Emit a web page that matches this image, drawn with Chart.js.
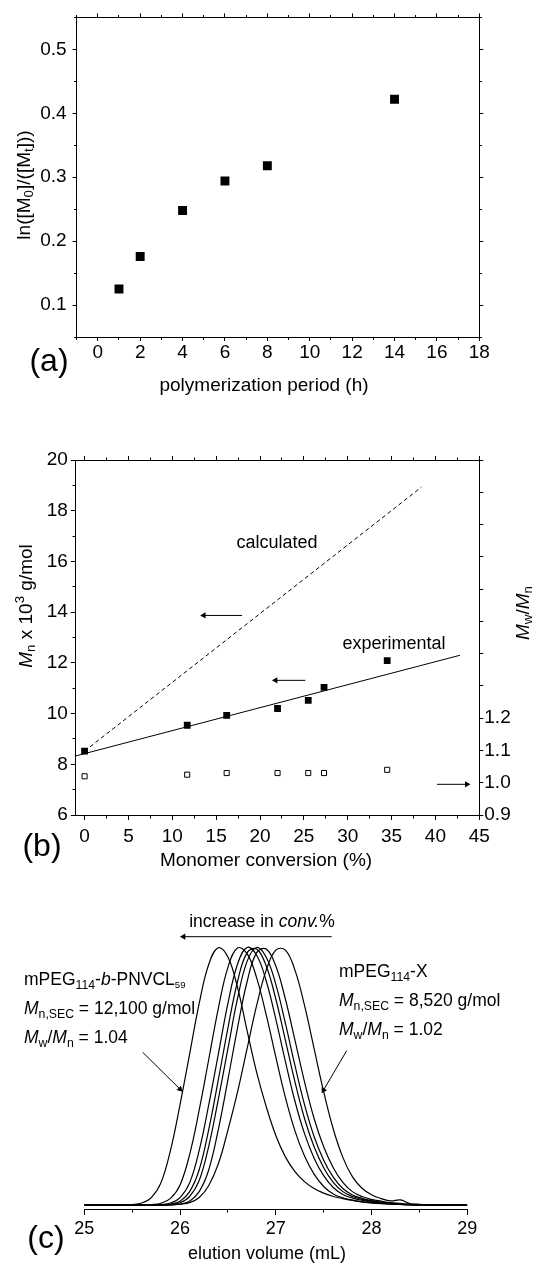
<!DOCTYPE html>
<html><head><meta charset="utf-8">
<script src="https://cdn.jsdelivr.net/npm/chart.js"></script>
<style>
html,body{margin:0;padding:0;background:#fff;}
#wrap{position:relative;width:548px;height:1269px;overflow:hidden;font-family:"Liberation Sans",Arial,sans-serif;color:#000;}
canvas{position:absolute;left:0;}
.t{position:absolute;white-space:nowrap;line-height:1;transform:translate(-50%,-50%);}
.tl{position:absolute;white-space:nowrap;line-height:1;transform:translateY(-50%);}
.rot{transform:translate(-50%,-50%) rotate(-90deg);}
sub,sup{font-size:0.7em;line-height:0;}
sub{vertical-align:-0.3em;}
sup{vertical-align:0.6em;}
sub.s{font-size:0.55em;}
.ax{font-size:19px;}
.bn{font-size:18px;}
.an{font-size:17.5px;}
.pl{font-size:32px;}
</style></head>
<body><div id="wrap">
<canvas id="ca" width="548" height="400" style="top:0px"></canvas>
<canvas id="cb" width="548" height="480" style="top:400px"></canvas>
<canvas id="cc" width="548" height="389" style="top:880px"></canvas>

<div class="t rot ax" style="left:22.5px;top:185px">ln([M<sub>0</sub>]/([M<sub>t</sub>]))</div>
<div class="t ax" style="left:264px;top:384px">polymerization period (h)</div>
<div class="t pl" style="left:49px;top:360px">(a)</div>

<div class="t rot ax" style="left:25px;top:606px"><i>M</i><sub>n</sub> x 10<sup>3</sup> g/mol</div>
<div class="t rot ax" style="left:522px;top:613px"><i>M</i><sub>w</sub>/<i>M</i><sub>n</sub></div>
<div class="t bn" style="left:277px;top:542px">calculated</div>
<div class="t bn" style="left:394px;top:643px">experimental</div>
<div class="t ax" style="left:266px;top:859px">Monomer conversion (%)</div>
<div class="t pl" style="left:42px;top:845px">(b)</div>

<div class="t an" style="left:262px;top:922px">increase in <i>conv.</i>%</div>
<div class="tl an" style="left:24px;top:980px">mPEG<sub>114</sub>-<i>b</i>-PNVCL<sub class="s">59</sub></div>
<div class="tl an" style="left:24px;top:1009px"><i>M</i><sub>n,SEC</sub> = 12,100 g/mol</div>
<div class="tl an" style="left:24px;top:1038px"><i>M</i><sub>w</sub>/<i>M</i><sub>n</sub> = 1.04</div>
<div class="tl an" style="left:339px;top:972px">mPEG<sub>114</sub>-X</div>
<div class="tl an" style="left:339px;top:1001px"><i>M</i><sub>n,SEC</sub> = 8,520 g/mol</div>
<div class="tl an" style="left:339px;top:1030px"><i>M</i><sub>w</sub>/<i>M</i><sub>n</sub> = 1.02</div>
<div class="t bn" style="left:267px;top:1253px">elution volume (mL)</div>
<div class="t pl" style="left:46px;top:1237px">(c)</div>
</div>
<script>
// ---------- Panel (a) data ----------
const timeH   = [1, 2, 4, 6, 8, 14];
const lnM0Mt  = [0.125, 0.176, 0.248, 0.294, 0.318, 0.422];
const aXTicks = [0, 2, 4, 6, 8, 10, 12, 14, 16, 18];
const aYTicks = [0.1, 0.2, 0.3, 0.4, 0.5];

// ---------- Panel (b) data ----------
const conversion = [0, 11.7, 16.2, 22.0, 25.5, 27.3, 34.5];
const mnExp      = [8.52, 9.54, 9.93, 10.2, 10.52, 11.03, 12.09];
const pdiExp     = [1.02, 1.025, 1.03, 1.03, 1.03, 1.03, 1.04];
const fitLineX   = [-1, 42.8];
const fitLineY   = [8.33, 12.3];
const calcLineX  = [0, 38.4];
const calcLineY  = [8.52, 18.93];
const bXTicks    = [0, 5, 10, 15, 20, 25, 30, 35, 40, 45];
const bYTicks    = [6, 8, 10, 12, 14, 16, 18, 20];
const bY2Ticks   = [0.9, 1.0, 1.1, 1.2, 1.3, 1.4, 1.5, 1.6, 1.7, 1.8, 1.9, 2.0];
const bY2Labels  = [0.9, 1.0, 1.1, 1.2];

// ---------- Panel (c) data ----------
const elutionVol = [25.0,25.1,25.2,25.3,25.4,25.5,25.6,25.7,25.8,25.9,26.0,26.1,26.2,26.3,26.4,26.5,26.6,26.7,26.8,26.9,27.0,27.1,27.2,27.3,27.4,27.5,27.6,27.7,27.8,27.9,28.0,28.1,28.2,28.3,28.4,28.5,28.6,28.7,28.8,28.9,29.0];
const secConv34 = [0,0,0,0,0,0.002,0.008,0.029,0.086,0.212,0.39,0.586,0.783,0.935,0.999,0.963,0.845,0.677,0.515,0.382,0.27,0.187,0.13,0.091,0.064,0.046,0.033,0.025,0.018,0.012,0.008,0.006,0.004,0.002,0,0,0,0,0,0,0];
const secConv27 = [0,0,0,0,0,0,0,0.002,0.007,0.026,0.078,0.196,0.369,0.566,0.764,0.923,0.998,0.976,0.882,0.738,0.575,0.418,0.288,0.19,0.12,0.072,0.043,0.028,0.019,0.012,0.008,0.005,0.003,0.002,0.001,0,0,0,0,0,0];
const secConv25 = [0,0,0,0,0,0,0,0,0.002,0.008,0.029,0.086,0.212,0.39,0.586,0.783,0.935,1.0,0.97,0.87,0.722,0.558,0.403,0.277,0.182,0.114,0.068,0.041,0.027,0.018,0.012,0.007,0.004,0.002,0.001,0,0,0,0,0,0];
const secConv22 = [0,0,0,0,0,0,0,0,0,0.004,0.015,0.052,0.137,0.294,0.487,0.687,0.867,0.98,0.994,0.928,0.80,0.64,0.478,0.336,0.226,0.145,0.088,0.052,0.033,0.022,0.015,0.009,0.006,0.003,0.002,0.001,0,0,0,0,0];
const secConv16 = [0,0,0,0,0,0,0,0,0,0.002,0.009,0.033,0.095,0.229,0.411,0.607,0.801,0.946,1.0,0.962,0.857,0.706,0.542,0.39,0.266,0.174,0.108,0.064,0.039,0.026,0.017,0.011,0.007,0.004,0.002,0.001,0,0,0,0,0];
const secConv12 = [0,0,0,0,0,0,0,0,0,0,0.004,0.015,0.052,0.137,0.294,0.487,0.687,0.867,0.98,0.994,0.928,0.80,0.64,0.478,0.336,0.226,0.145,0.088,0.052,0.033,0.022,0.015,0.009,0.006,0.003,0.002,0.001,0,0,0,0];
const secConv0  = [0,0,0,0,0,0,0,0,0,0,0.003,0.009,0.029,0.076,0.16,0.291,0.438,0.607,0.775,0.912,0.99,0.99,0.912,0.775,0.607,0.44,0.295,0.185,0.11,0.065,0.04,0.025,0.016,0.02,0.006,0.003,0.001,0,0,0,0];
const cXTicks = [25, 26, 27, 28, 29];

// ---------- annotation arrows (data coordinates) ----------
const bArrows = [
  {from: [17.95, 13.87], to: [13.59, 13.87], rot: -90},
  {from: [25.17, 11.31], to: [21.77, 11.31], rot: -90},
  {from: [40.18, 7.21], to: [43.58, 7.21], rot: 90}
];
const cArrows = [
  {from: [27.584, 1.042], to: [26.036, 1.042], rot: -90},
  {from: [25.61, 0.593], to: [26.0, 0.45], rot: 135},
  {from: [27.74, 0.599], to: [27.498, 0.446], rot: -150}
];

// ---------- helpers ----------
const FONT = '"Liberation Sans", Arial, sans-serif';
Chart.defaults.font.family = FONT;
Chart.defaults.color = '#000';

function axis(o) {
  return {
    type: 'linear', position: o.pos, min: o.min, max: o.max,
    grid: {drawOnChartArea: false, drawTicks: true, tickLength: o.tl, tickColor: '#000', tickWidth: 1},
    border: {display: true, color: '#000', width: 1},
    ticks: {
      display: !!o.labels, color: '#000', font: {size: o.fs || 19, family: FONT},
      padding: o.pad || 0, autoSkip: false, maxRotation: 0, minRotation: 0,
      callback: (v) => (o.labels && o.labels.includes(v)) ? o.fmt(v) : ''
    },
    afterBuildTicks: (s) => { s.ticks = o.ticks.map(v => ({value: v})); },
    afterFit: (s) => { if (o.size != null) { if (s.isHorizontal()) s.height = o.size; else s.width = o.size; } }
  };
}
function minorTicks(steps, len) {
  return {
    id: 'minorTicks',
    afterDraw(chart) {
      const ctx = chart.ctx;
      const al = p => Math.round(p - 0.5) + 0.5;
      ctx.save();
      ctx.strokeStyle = '#000'; ctx.lineWidth = 1;
      for (const id in steps) {
        const s = chart.scales[id]; if (!s) continue;
        const st = steps[id];
        const n0 = Math.ceil(s.min / st - 1e-9), n1 = Math.floor(s.max / st + 1e-9);
        for (let n = n0; n <= n1; n++) {
          const p = al(s.getPixelForValue(n * st));
          ctx.beginPath();
          if (s.isHorizontal()) {
            const y = s.position === 'top' ? al(s.bottom) : al(s.top);
            const d = s.position === 'top' ? -len : len;
            ctx.moveTo(p, y); ctx.lineTo(p, y + d);
          } else {
            const x = s.position === 'left' ? al(s.right) : al(s.left);
            const d = s.position === 'left' ? -len : len;
            ctx.moveTo(x, p); ctx.lineTo(x + d, p);
          }
          ctx.stroke();
        }
      }
      ctx.restore();
    }
  };
}
function arrowDs(a, yAxisID) {
  return {
    data: [{x: a.from[0], y: a.from[1]}, {x: a.to[0], y: a.to[1]}],
    borderColor: '#000', borderWidth: 1, backgroundColor: '#000',
    pointRadius: [0, 3.6], pointStyle: 'triangle', pointRotation: [0, a.rot],
    pointBackgroundColor: '#000', pointBorderWidth: 0, tension: 0, fill: false, yAxisID
  };
}
const baseOpts = {
  responsive: false, animation: false, devicePixelRatio: 1,
  plugins: {legend: {display: false}, tooltip: {enabled: false}},
  events: []
};
const xy = (xs, ys) => xs.map((x, i) => ({x, y: ys[i]}));

// ---------- Chart (a) ----------
new Chart(document.getElementById('ca'), {
  type: 'line',
  data: {datasets: [{
    data: xy(timeH, lnM0Mt), showLine: false, pointStyle: 'rect', pointRadius: 6.3,
    pointBackgroundColor: '#000', pointBorderWidth: 0, borderColor: '#000'
  }]},
  options: Object.assign({}, baseOpts, {
    layout: {padding: 0},
    scales: {
      x:  axis({pos: 'bottom', min: -1, max: 18, ticks: aXTicks, labels: aXTicks, fmt: String, tl: 4, pad: 0, size: 63}),
      x2: axis({pos: 'top', min: -1, max: 18, ticks: aXTicks, tl: 4, size: 13}),
      y:  axis({pos: 'left', min: 0.05, max: 0.55, ticks: aYTicks, labels: aYTicks, fmt: v => v.toFixed(1), tl: 4, pad: 6, size: 76.6}),
      y2: axis({pos: 'right', min: 0.05, max: 0.55, ticks: aYTicks, tl: 4, size: 68.7})
    }
  }),
  plugins: [minorTicks({x: 1, x2: 1, y: 0.05, y2: 0.05}, 2.5)]
});

// ---------- Chart (b) ----------
new Chart(document.getElementById('cb'), {
  type: 'line',
  data: {datasets: [
    {data: xy(calcLineX, calcLineY), borderColor: '#000', borderWidth: 1, borderDash: [4, 3], pointRadius: 0, tension: 0, yAxisID: 'y'},
    {data: xy(fitLineX, fitLineY), borderColor: '#000', borderWidth: 1, pointRadius: 0, tension: 0, yAxisID: 'y'},
    {data: xy(conversion, mnExp), showLine: false, pointStyle: 'rect', pointRadius: 4.8,
     pointBackgroundColor: '#000', pointBorderWidth: 0, borderColor: '#000', yAxisID: 'y'},
    {data: xy(conversion, pdiExp), showLine: false, pointStyle: 'rect', pointRadius: 3.6,
     pointBackgroundColor: '#fff', pointBorderColor: '#000', pointBorderWidth: 1, borderColor: '#000', yAxisID: 'y2'},
    ...bArrows.map(a => arrowDs(a, 'y'))
  ]},
  options: Object.assign({}, baseOpts, {
    layout: {padding: 0},
    scales: {
      x:  axis({pos: 'bottom', min: -1, max: 45, ticks: bXTicks, labels: bXTicks, fmt: String, tl: 5, pad: 5, size: 65}),
      x2: axis({pos: 'top', min: -1, max: 45, ticks: bXTicks, tl: 4, size: 60}),
      y:  axis({pos: 'left', min: 6, max: 20, ticks: bYTicks, labels: bYTicks, fmt: String, tl: 5, pad: 3, size: 75.8}),
      y2: axis({pos: 'right', min: 0.9, max: 2.0, ticks: bY2Ticks, labels: bY2Labels, fmt: v => v.toFixed(1), tl: 4, pad: 1, size: 68.7})
    }
  }),
  plugins: [minorTicks({x: 2.5, x2: 2.5, y: 1}, 3)]
});

// ---------- Chart (c) ----------
const secSeries = [secConv34, secConv27, secConv25, secConv22, secConv16, secConv12, secConv0];
new Chart(document.getElementById('cc'), {
  type: 'line',
  data: {datasets: [
    ...secSeries.map(s => ({data: xy(elutionVol, s), borderColor: '#000', borderWidth: 1.2, pointRadius: 0, tension: 0.4, fill: false, yAxisID: 'y'})),
    ...cArrows.map(a => arrowDs(a, 'y'))
  ]},
  options: Object.assign({}, baseOpts, {
    layout: {padding: {left: 84.3, right: 80.7, top: 25, bottom: 0}},
    scales: {
      x: axis({pos: 'bottom', min: 25, max: 29, ticks: cXTicks, labels: cXTicks, fmt: String, tl: 6, pad: 3, size: 60, fs: 18}),
      y: {type: 'linear', display: false, min: -0.0155, max: 1.165}
    }
  }),
  plugins: [minorTicks({x: 0.5}, 3)]
});
</script>
</body></html>
